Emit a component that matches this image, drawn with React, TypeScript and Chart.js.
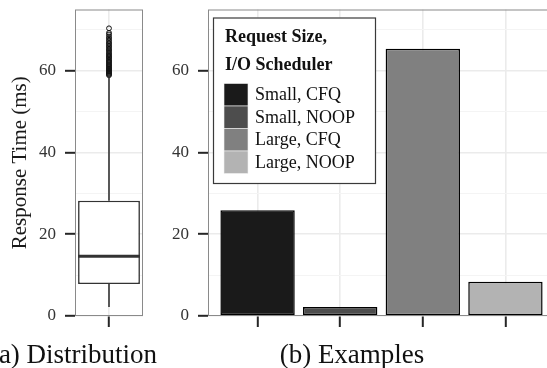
import React, { useEffect, useRef } from 'react';
import { Chart, registerables } from 'chart.js';

Chart.register(...registerables);

const FONT = "'Liberation Serif', 'DejaVu Serif', serif";

// ---------- shared ----------
const yAxisTitle = 'Response Time (ms)';
const yMin = 0;
const yMax = 75;
const yStep = 10;
const yLabelStep = 20;
const captions = ['(a) Distribution', '(b) Examples'];

// ---------- panel (a): distribution ----------
const distCategory = ['All requests'];
const boxStatNames = ['lower whisker', 'Q1', 'median', 'Q3', 'upper whisker'];
const boxStats = [2.2, 7.8, 14.6, 28.2, 58.7];
const outliers = [
  58.9, 59.1, 59.3, 59.5, 59.7, 59.9, 60.2, 60.4, 60.6, 60.9, 61.1, 61.4, 61.6,
  61.9, 62.2, 62.4, 62.7, 63.0, 63.3, 63.5, 63.8, 64.1, 64.4, 64.8, 65.1, 65.4,
  65.8, 66.1, 66.5, 66.8, 67.2, 67.6, 68.0, 68.4, 68.9, 69.3, 70.4,
];

// ---------- panel (b): examples ----------
const exampleCategories = ['Small, CFQ', 'Small, NOOP', 'Large, CFQ', 'Large, NOOP'];
const exampleValues = [25.9, 2.2, 65.4, 8.4];
const exampleColors = ['#1a1a1a', '#4d4d4d', '#808080', '#b3b3b3'];
const legendTitle = ['Request Size,', 'I/O Scheduler'];

const isMajor = (v: number) => Math.abs(v % yLabelStep) < 1e-6;

const zeroPad = (s: any) => {
  s.paddingTop = 0;
  s.paddingBottom = 0;
  s.paddingLeft = 0;
  s.paddingRight = 0;
};

function makeYScale(width: number, withTitle: boolean): any {
  return {
    type: 'linear',
    min: yMin,
    max: yMax,
    afterBuildTicks: (s: any) => {
      s.ticks = s.ticks.filter((t: any) => Math.abs(t.value % yStep) < 1e-6 && t.value <= 70);
    },
    afterFit: (s: any) => {
      s.width = width;
      zeroPad(s);
    },
    ticks: {
      stepSize: yStep,
      autoSkip: false,
      padding: 9,
      color: '#333',
      font: { family: FONT, size: 17 },
      callback: (v: any) => (isMajor(Number(v)) ? String(v) : ''),
    },
    grid: {
      color: (c: any) => (c.tick && isMajor(c.tick.value) ? '#ebebeb' : '#f4f4f4'),
      lineWidth: (c: any) => (c.tick && isMajor(c.tick.value) ? 1.6 : 1),
      tickColor: (c: any) => (c.tick && isMajor(c.tick.value) ? '#262626' : 'rgba(0,0,0,0)'),
      tickLength: 10,
      tickWidth: 2,
    },
    border: { display: false },
    title: withTitle
      ? {
          display: true,
          text: yAxisTitle,
          color: '#1a1a1a',
          font: { family: FONT, size: 21 },
          padding: { top: 8, bottom: 0 },
        }
      : { display: false },
  };
}

const xGrid = {
  offset: false,
  color: '#ebebeb',
  lineWidth: 1.6,
  tickColor: '#262626',
  tickLength: 11,
  tickWidth: 2,
};

const panelBorder = {
  id: 'panelBorder',
  afterDatasetsDraw(chart: any) {
    const { ctx, chartArea: a } = chart;
    ctx.save();
    ctx.strokeStyle = '#8a8a8a';
    ctx.lineWidth = 1;
    ctx.strokeRect(a.left + 0.5, a.top + 0.5, a.right - a.left - 1, a.bottom - a.top - 1);
    ctx.restore();
  },
};

function captionPlugin(text: string, cx: number, baseline: number) {
  return {
    id: 'caption',
    afterDraw(chart: any) {
      const { ctx } = chart;
      ctx.save();
      ctx.fillStyle = '#111';
      ctx.font = `27px ${FONT}`;
      ctx.textAlign = 'center';
      ctx.textBaseline = 'alphabetic';
      ctx.fillText(text, cx, baseline);
      ctx.restore();
    },
  };
}

const whiskerPlugin = {
  id: 'whiskers',
  afterDatasetsDraw(chart: any) {
    const { ctx } = chart;
    const xs = chart.scales.x;
    const ys = chart.scales.y;
    const meta = chart.getDatasetMeta(0);
    const bar = meta.data[0];
    if (!bar) return;
    const cx = xs.getPixelForValue(0);
    const half = bar.width / 2;
    const [lo, q1, med, q3, hi] = boxStats;
    ctx.save();
    ctx.strokeStyle = '#333';
    ctx.lineWidth = 1.6;
    ctx.beginPath();
    ctx.moveTo(cx, ys.getPixelForValue(q3));
    ctx.lineTo(cx, ys.getPixelForValue(hi));
    ctx.moveTo(cx, ys.getPixelForValue(q1));
    ctx.lineTo(cx, ys.getPixelForValue(lo));
    ctx.stroke();
    ctx.lineWidth = 3;
    ctx.beginPath();
    ctx.moveTo(cx - half, ys.getPixelForValue(med));
    ctx.lineTo(cx + half, ys.getPixelForValue(med));
    ctx.stroke();
    ctx.restore();
  },
};

const legendPlugin = {
  id: 'boxLegend',
  afterDraw(chart: any) {
    const { ctx, chartArea: a } = chart;
    const bx = a.left + 5;
    const by = a.top + 8;
    const bw = 163;
    const bh = 166.5;
    ctx.save();
    ctx.fillStyle = '#fff';
    ctx.fillRect(bx, by, bw, bh);
    ctx.strokeStyle = '#3a3a3a';
    ctx.lineWidth = 1.2;
    ctx.strokeRect(bx + 0.5, by + 0.5, bw - 1, bh - 1);
    ctx.fillStyle = '#111';
    ctx.font = `bold 18px ${FONT}`;
    ctx.textAlign = 'left';
    ctx.textBaseline = 'alphabetic';
    legendTitle.forEach((t, i) => ctx.fillText(t, bx + 12, by + 24.5 + i * 28));
    const sx = bx + 11;
    const sy = by + 66;
    const rowH = 22.5;
    ctx.font = `18px ${FONT}`;
    ctx.textBaseline = 'middle';
    exampleCategories.forEach((label, i) => {
      ctx.fillStyle = exampleColors[i];
      ctx.fillRect(sx, sy + i * rowH, 24, rowH);
      ctx.strokeStyle = '#f2f2f2';
      ctx.lineWidth = 0.6;
      ctx.strokeRect(sx, sy + i * rowH, 24, rowH);
      ctx.fillStyle = '#111';
      ctx.fillText(label, sx + 31, sy + i * rowH + rowH / 2 + 1);
    });
    ctx.restore();
  },
};

export default function App() {
  const leftRef = useRef<HTMLCanvasElement>(null);
  const rightRef = useRef<HTMLCanvasElement>(null);

  useEffect(() => {
    if (!leftRef.current || !rightRef.current) return;
    Chart.defaults.font.family = FONT;

    const left = new Chart(leftRef.current, {
      type: 'bar',
      data: {
        labels: distCategory,
        datasets: [
          {
            type: 'bar',
            label: boxStatNames.join(', '),
            data: [[boxStats[1], boxStats[3]]] as any,
            backgroundColor: '#ffffff',
            borderColor: '#333',
            borderWidth: 1.6,
            borderSkipped: false,
            barPercentage: 0.91,
            categoryPercentage: 1,
          } as any,
          {
            type: 'scatter',
            label: 'outliers',
            data: outliers.map((v) => ({ x: distCategory[0], y: v })) as any,
            pointRadius: 2.4,
            pointBorderWidth: 1,
            pointBorderColor: '#111',
            pointBackgroundColor: 'rgba(255,255,255,0)',
          } as any,
        ],
      },
      options: {
        responsive: false,
        animation: false,
        events: [],
        layout: { padding: { top: 9.5, right: 17, left: 0, bottom: 0 } },
        plugins: { legend: { display: false }, tooltip: { enabled: false } },
        scales: {
          x: {
            type: 'category',
            offset: true,
            grid: xGrid,
            border: { display: false },
            ticks: { callback: () => '', padding: 0 },
            afterFit: (s: any) => {
              s.height = 52;
              zeroPad(s);
            },
          } as any,
          y: makeYScale(75, true),
        },
      },
      plugins: [whiskerPlugin, panelBorder, captionPlugin(captions[0], 73.5, 363)],
    });

    const right = new Chart(rightRef.current, {
      type: 'bar',
      data: {
        datasets: [
          {
            label: 'Examples',
            data: exampleValues.map((v, i) => ({ x: i, y: v })) as any,
            backgroundColor: exampleColors,
            borderColor: '#000',
            borderWidth: 1.5,
            borderSkipped: false,
            barPercentage: 0.9,
            categoryPercentage: 1,
          } as any,
        ],
      },
      options: {
        responsive: false,
        animation: false,
        events: [],
        layout: { padding: { top: 9.5, right: 1, left: 0, bottom: 0 } },
        plugins: { legend: { display: false }, tooltip: { enabled: false } },
        scales: {
          x: {
            type: 'linear',
            offset: false,
            min: -0.6,
            max: exampleCategories.length - 1 + 0.6,
            afterBuildTicks: (s: any) => {
              s.ticks = s.ticks.filter(
                (t: any) => Number.isInteger(t.value) && t.value >= 0 && t.value < exampleCategories.length,
              );
            },
            grid: xGrid,
            border: { display: false },
            ticks: { stepSize: 1, autoSkip: false, callback: () => '', padding: 0 },
            afterFit: (s: any) => {
              s.height = 52;
              zeroPad(s);
            },
          } as any,
          y: makeYScale(48, false),
        },
      },
      plugins: [panelBorder, legendPlugin, captionPlugin(captions[1], 192, 363)],
    });

    return () => {
      left.destroy();
      right.destroy();
    };
  }, []);

  return (
    <div
      style={{
        position: 'fixed',
        left: 0,
        top: 0,
        width: 547,
        height: 368,
        overflow: 'hidden',
        background: '#fff',
      }}
    >
      <canvas ref={leftRef} width={160} height={368} style={{ position: 'absolute', left: 0, top: 0 }} />
      <canvas ref={rightRef} width={396} height={368} style={{ position: 'absolute', left: 160, top: 0 }} />
    </div>
  );
}
